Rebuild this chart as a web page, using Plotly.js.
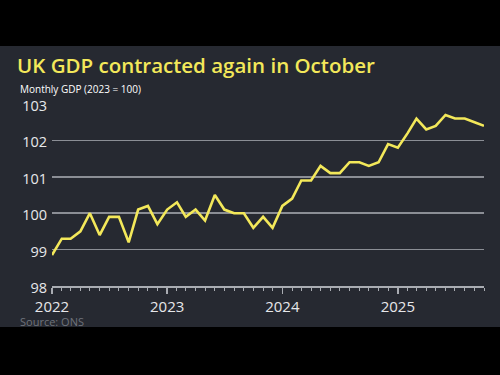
<!DOCTYPE html>
<html>
<head>
<meta charset="utf-8">
<script src="https://cdn.plot.ly/plotly-3.0.1.min.js"></script>
<style>
html,body{margin:0;padding:0;background:#000;}
#chart{width:500px;height:375px;}
</style>
</head>
<body>
<div id="chart"></div>
<script>
// Monthly GDP index (2023 = 100), Jan 2022 - Oct 2025
const months = [
  "2022-01-01","2022-02-01","2022-03-01","2022-04-01","2022-05-01","2022-06-01",
  "2022-07-01","2022-08-01","2022-09-01","2022-10-01","2022-11-01","2022-12-01",
  "2023-01-01","2023-02-01","2023-03-01","2023-04-01","2023-05-01","2023-06-01",
  "2023-07-01","2023-08-01","2023-09-01","2023-10-01","2023-11-01","2023-12-01",
  "2024-01-01","2024-02-01","2024-03-01","2024-04-01","2024-05-01","2024-06-01",
  "2024-07-01","2024-08-01","2024-09-01","2024-10-01","2024-11-01","2024-12-01",
  "2025-01-01","2025-02-01","2025-03-01","2025-04-01","2025-05-01","2025-06-01",
  "2025-07-01","2025-08-01","2025-09-01","2025-10-01"
];
const gdp = [
  98.85, 99.3, 99.3, 99.5, 100.0, 99.4,
  99.9, 99.9, 99.2, 100.1, 100.2, 99.7,
  100.1, 100.3, 99.9, 100.1, 99.8, 100.5,
  100.1, 100.0, 100.0, 99.6, 99.9, 99.6,
  100.2, 100.4, 100.9, 100.9, 101.3, 101.1,
  101.1, 101.4, 101.4, 101.3, 101.4, 101.9,
  101.8, 102.2, 102.6, 102.3, 102.4, 102.7,
  102.6, 102.6, 102.5, 102.4
];
const yearTickVals = ["2022-01-01","2023-01-01","2024-01-01","2025-01-01"];
const yearTickText = ["2022","2023","2024","2025"];
const yTickVals = [98, 99, 100, 101, 102, 103];

const titleText = "UK GDP contracted again in October";
const subtitleText = "Monthly GDP (2023 = 100)";
const sourceText = "Source: ONS";

const FONT = "Open Sans, Noto Sans, sans-serif";
const panel = "#262931";

const trace = {
  x: months, y: gdp, type: "scatter", mode: "lines",
  line: {color: "#f3e85a", width: 2.6},
  hoverinfo: "skip"
};

// plot area: x 52..484, y 104..286
const L = 52, R = 16, T = 104, B = 89;
const pw = 500 - L - R, ph = 375 - T - B;
function px(x){ return (x - L) / pw; }
function py(y){ return (375 - B - y) / ph; }

const layout = {
  width: 500, height: 375,
  margin: {l: L, r: R, t: T, b: B},
  paper_bgcolor: "#000000",
  plot_bgcolor: "rgba(0,0,0,0)",
  showlegend: false,
  font: {family: FONT, color: "#e6e7ea"},
  title: {
    text: titleText,
    font: {family: FONT, size: 20.5, color: "#f3e85a", weight: 600},
    xref: "container", yref: "container",
    x: 17/500, xanchor: "left",
    y: 1 - 66/375, yanchor: "middle",
    pad: {l: 0, t: 0, b: 0, r: 0}
  },
  xaxis: {
    type: "date",
    range: [months[0], months[months.length-1]],
    tickmode: "array", tickvals: yearTickVals, ticktext: yearTickText,
    showgrid: false, zeroline: false,
    showline: true, linecolor: "#a9acb2", linewidth: 1.5,
    ticks: "outside", ticklen: 6, tickwidth: 1.5, tickcolor: "#a9acb2",
    minor: {dtick: "M1", ticks: "outside", ticklen: 3, tickwidth: 1, tickcolor: "#a9acb2", showgrid: false},
    tickfont: {family: FONT, size: 15, color: "#e6e7ea"},
    fixedrange: true
  },
  yaxis: {
    range: [98, 103],
    tickmode: "array", tickvals: yTickVals,
    showgrid: true, gridcolor: "#8b8e95", gridwidth: 1.5,
    zeroline: false, showline: false, ticks: "",
    tickfont: {family: FONT, size: 14.5, color: "#e6e7ea"},
    ticklabelstandoff: 4,
    ticklabelshift: 2,
    fixedrange: true
  },
  shapes: [{
    type: "rect", xref: "paper", yref: "paper", layer: "below",
    x0: px(0), x1: px(500), y0: py(327), y1: py(46),
    fillcolor: panel, line: {width: 0}
  }],
  annotations: [
    {text: subtitleText, xref: "paper", yref: "paper", x: px(18), y: py(88.5),
     xanchor: "left", yanchor: "middle", showarrow: false,
     font: {family: FONT, size: 10, color: "#ffffff"}},
    {text: sourceText, xref: "paper", yref: "paper", x: px(18), y: py(321),
     xanchor: "left", yanchor: "middle", showarrow: false,
     font: {family: FONT, size: 11, color: "#6f737b"}}
  ]
};

Plotly.newPlot("chart", [trace], layout, {displayModeBar: false, staticPlot: true});
</script>
</body>
</html>
